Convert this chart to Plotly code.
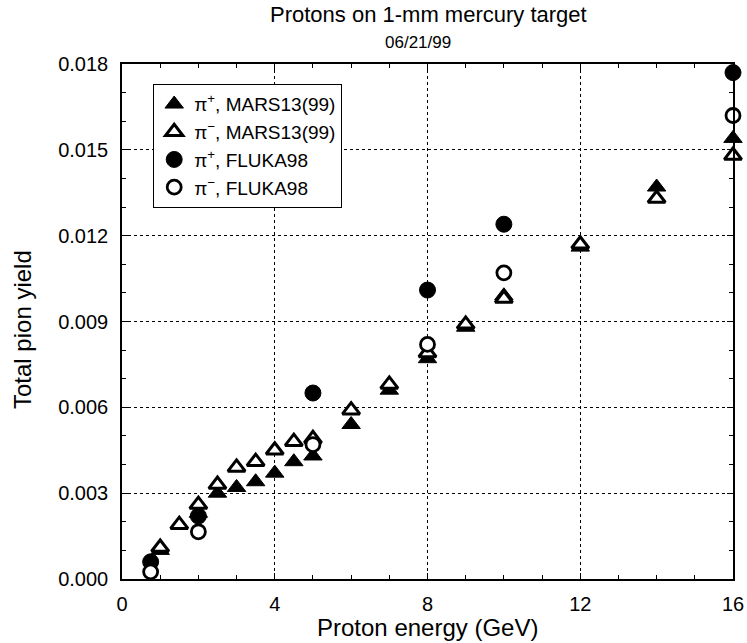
import plotly.graph_objects as go

# ---- data ----
mars_pip_x = [1, 2, 2.5, 3, 3.5, 4, 4.5, 5, 6, 7, 8, 9, 10, 12, 14, 16]
mars_pip_y = [0.0010, 0.0023, 0.0030, 0.0032, 0.0034, 0.0037, 0.0041, 0.0043,
              0.0054, 0.0066, 0.0077, 0.0088, 0.0099, 0.0116, 0.0137, 0.0154]

mars_pim_x = [1, 1.5, 2, 2.5, 3, 3.5, 4, 4.5, 5, 6, 7, 8, 9, 10, 12, 14, 16]
mars_pim_y = [0.0011, 0.0019, 0.0026, 0.0033, 0.0039, 0.0041, 0.0045, 0.0048, 0.0049,
              0.0059, 0.0068, 0.0079, 0.0089, 0.0098, 0.0117, 0.0133, 0.0148]

fluka_pip_x = [0.75, 2, 5, 8, 10, 16]
fluka_pip_y = [0.0006, 0.0022, 0.0065, 0.0101, 0.0124, 0.0177]

fluka_pim_x = [0.75, 2, 5, 8, 10, 16]
fluka_pim_y = [0.00025, 0.00165, 0.0047, 0.0082, 0.0107, 0.0162]

x_ticks = [0, 4, 8, 12, 16]
y_ticks = [0.000, 0.003, 0.006, 0.009, 0.012, 0.015, 0.018]

FONT = "Liberation Sans, Arial, sans-serif"

W, H = 747, 643
L, R, T, B = 122, 14, 64, 64
pw = W - L - R
ph = H - T - B


def px_to_paper_x(px):
    return (px - L) / pw


def px_to_paper_y(py):
    return (H - B - py) / ph


fig = go.Figure()
fig.add_trace(go.Scatter(
    x=mars_pip_x, y=mars_pip_y, mode="markers", name="π<sup>+</sup>, MARS13(99)", cliponaxis=False,
    marker=dict(symbol="triangle-up", size=16, color="black", line=dict(color="black", width=1))))
fig.add_trace(go.Scatter(
    x=mars_pim_x, y=mars_pim_y, mode="markers", name="π<sup>−</sup>, MARS13(99)", cliponaxis=False,
    marker=dict(symbol="triangle-up", size=15, color="white", line=dict(color="black", width=3))))
fig.add_trace(go.Scatter(
    x=fluka_pip_x, y=fluka_pip_y, mode="markers", name="π<sup>+</sup>, FLUKA98", cliponaxis=False,
    marker=dict(symbol="circle", size=16, color="black", line=dict(color="black", width=1))))
fig.add_trace(go.Scatter(
    x=fluka_pim_x, y=fluka_pim_y, mode="markers", name="π<sup>−</sup>, FLUKA98", cliponaxis=False,
    marker=dict(symbol="circle", size=14, color="white", line=dict(color="black", width=2.8))))

axis_common = dict(
    showline=True, linecolor="black", linewidth=1.5, mirror="allticks",
    ticks="inside", ticklen=6, tickwidth=1, tickcolor="black",
    showgrid=True, gridcolor="black", gridwidth=1, griddash="dot",
    zeroline=False, automargin=False,
    tickfont=dict(family=FONT, size=20, color="black"),
)

fig.update_xaxes(range=[0, 16], tickvals=x_ticks, ticktext=[str(v) for v in x_ticks],
                 minor=dict(dtick=1, ticks="inside", ticklen=4, tickcolor="black", showgrid=False),
                 ticklabelstandoff=6, **axis_common)
fig.update_yaxes(range=[0, 0.018], tickvals=y_ticks, ticktext=[f"{v:.3f}" for v in y_ticks],
                 minor=dict(dtick=0.001, ticks="inside", ticklen=4, tickcolor="black", showgrid=False),
                 ticklabelstandoff=8, **axis_common)

annotations = [
    dict(text="Protons on 1-mm mercury target", x=px_to_paper_x(428), y=px_to_paper_y(15),
         font=dict(size=22)),
    dict(text="06/21/99", x=px_to_paper_x(418), y=px_to_paper_y(43), font=dict(size=17)),
    dict(text="Proton energy (GeV)", x=px_to_paper_x(427), y=px_to_paper_y(627),
         font=dict(size=24)),
    dict(text="Total pion yield", x=px_to_paper_x(22), y=px_to_paper_y(329),
         textangle=-90, font=dict(size=24)),
]
for a in annotations:
    a.update(xref="paper", yref="paper", showarrow=False, xanchor="center", yanchor="middle")

fig.update_layout(
    width=W, height=H,
    margin=dict(l=L, r=R, t=T, b=B),
    plot_bgcolor="white", paper_bgcolor="white",
    font=dict(family=FONT, color="black"),
    showlegend=True,
    legend=dict(x=px_to_paper_x(153), y=px_to_paper_y(84), xanchor="left", yanchor="top",
                bordercolor="black", borderwidth=1.2, bgcolor="white",
                font=dict(family=FONT, size=19, color="black"),
                tracegroupgap=0),
    annotations=annotations,
)

fig.write_html("out.html")
